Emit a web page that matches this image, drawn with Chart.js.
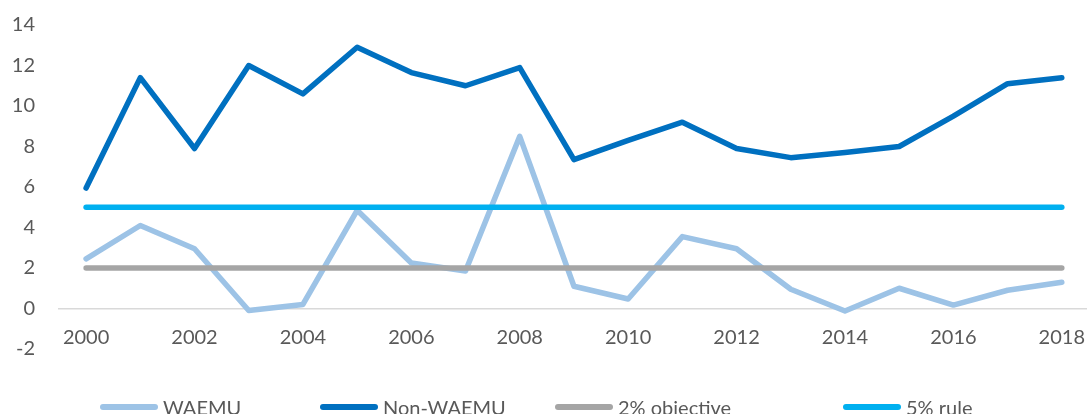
<!DOCTYPE html>
<html>
<head>
<meta charset="utf-8">
<script src="https://cdn.jsdelivr.net/npm/chart.js@4.4.0/dist/chart.umd.min.js"></script>
<style>
    html, body { margin: 0; padding: 0; background: #fff; overflow: hidden; }
    #marco { position: relative; width: 1087px; height: 414px; overflow: hidden; }
    #wrap { position: absolute; left: 0; top: -11px; width: 1102px; height: 425px; }
    #leyenda { position: absolute; left: 0; top: 396px; width: 1087px; height: 22px;
        font-family: Lato, "Open Sans", sans-serif; font-size: 20px; color: #595959; }
    .item { position: absolute; top: 0; display: flex; align-items: center; height: 22px; white-space: nowrap; }
    .muestra { width: 58px; height: 6px; border-radius: 3px; margin-right: 5px; }
</style>
</head>
<body>
<div id="marco">
    <div id="wrap">
        <canvas id="grafico"></canvas>
    </div>
    <div id="leyenda"></div>
</div>
<script>
const anios = ['2000', '2001', '2002', '2003', '2004', '2005', '2006', '2007', '2008', '2009',
    '2010', '2011', '2012', '2013', '2014', '2015', '2016', '2017', '2018'];
const waemu = [2.45, 4.1, 2.95, -0.1, 0.2, 4.85, 2.25, 1.85, 8.5, 1.1,
    0.47, 3.55, 2.95, 0.95, -0.12, 1.0, 0.17, 0.9, 1.3];
const nonWaemu = [5.95, 11.4, 7.9, 12.0, 10.6, 12.9, 11.65, 11.0, 11.9, 7.35,
    8.3, 9.2, 7.9, 7.45, 7.7, 8.0, 9.5, 11.1, 11.4];
const objetivo2 = [2, 2, 2, 2, 2, 2, 2, 2, 2, 2, 2, 2, 2, 2, 2, 2, 2, 2, 2];
const regla5 = [5, 5, 5, 5, 5, 5, 5, 5, 5, 5, 5, 5, 5, 5, 5, 5, 5, 5, 5];
const ticksY = [-2, 0, 2, 4, 6, 8, 10, 12, 14];

const colorTexto = '#595959';
const fuente = { family: 'Lato, "Open Sans", sans-serif', size: 20 };

function serie(nombre, datos, color) {
    return {
        label: nombre,
        data: datos,
        borderColor: color,
        backgroundColor: color,
        borderWidth: 5.5,
        borderCapStyle: 'round',
        borderJoinStyle: 'round',
        pointRadius: 0,
        tension: 0
    };
}

// se dibujan de la última a la primera, asi que la regla del 5% queda encima
const series = [
    serie('5% rule', regla5, '#00B0F0'),
    serie('2% objective', objetivo2, '#A5A5A5'),
    serie('Non-WAEMU', nonWaemu, '#0070C0'),
    serie('WAEMU', waemu, '#9DC3E6')
];

const ctx = document.getElementById('grafico').getContext('2d');
new Chart(ctx, {
    type: 'line',
    data: { labels: anios, datasets: series },
    options: {
        responsive: true,
        maintainAspectRatio: false,
        animation: false,
        layout: { padding: { top: 3, left: 0, right: 0, bottom: 65 } },
        scales: {
            x: {
                type: 'category',
                offset: true,
                position: { y: 0 },
                grid: { display: false, drawTicks: false },
                border: { display: true, color: '#D9D9D9', width: 1.5 },
                ticks: {
                    color: colorTexto,
                    font: fuente,
                    autoSkip: false,
                    maxRotation: 0,
                    padding: 17,
                    callback: function (value, index) {
                        return index % 2 === 0 ? anios[index] : '';
                    }
                }
            },
            y: {
                min: ticksY[0],
                max: ticksY[ticksY.length - 1],
                grid: { display: false, drawTicks: false },
                border: { display: false },
                afterBuildTicks: function (escala) {
                    escala.ticks = ticksY.map(v => ({ value: v }));
                },
                afterFit: function (escala) {
                    escala.width = 59;
                },
                ticks: {
                    color: colorTexto,
                    font: fuente,
                    padding: 24
                }
            }
        },
        plugins: {
            legend: { display: false },
            tooltip: { enabled: false }
        }
    }
});

// leyenda en HTML, en el orden del original
const posLeyenda = [100, 320, 555, 843];
const leyenda = document.getElementById('leyenda');
series.slice().reverse().forEach((s, i) => {
    const item = document.createElement('div');
    item.className = 'item';
    item.style.left = posLeyenda[i] + 'px';
    item.innerHTML = `<span class="muestra" style="background:${s.borderColor}"></span><span>${s.label}</span>`;
    leyenda.appendChild(item);
});
</script>
</body>
</html>
